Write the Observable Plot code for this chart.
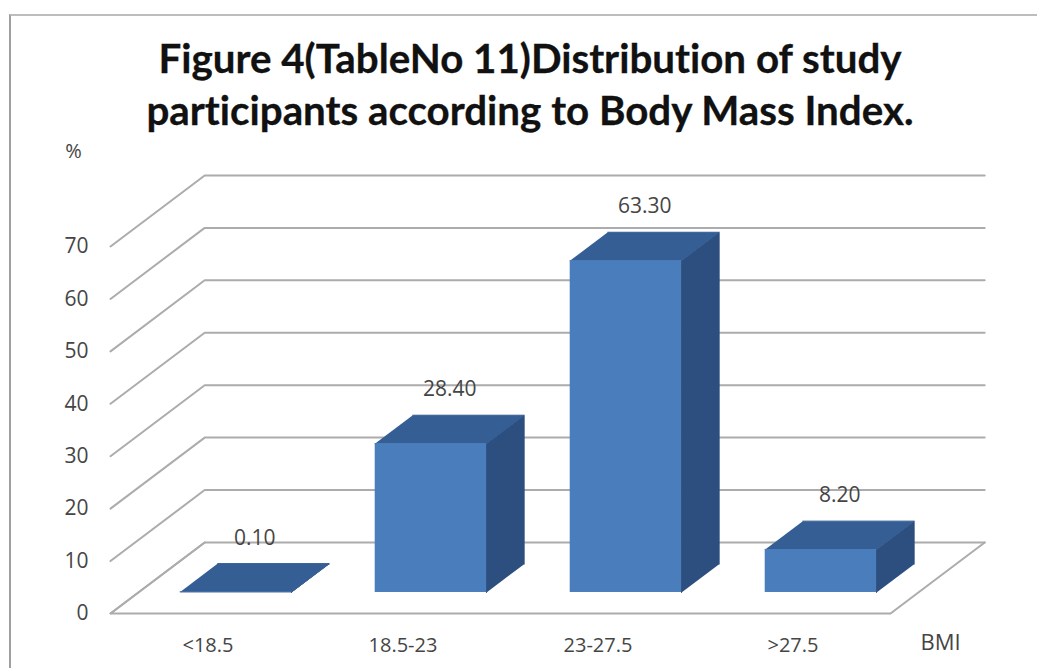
<!DOCTYPE html>
<html>
<head>
<meta charset="utf-8">
<script src="https://cdn.jsdelivr.net/npm/d3@7"></script>
<script src="https://cdn.jsdelivr.net/npm/@observablehq/plot@0.6"></script>
<style>
  html, body { margin: 0; background: #fff; }
  #page { position: relative; width: 1037px; height: 668px; overflow: hidden; }
  #frame { position: absolute; left: 9px; top: 14px; width: 1060px; height: 700px; border: 2px solid #9f9f9f; border-top-color: #bdbdbd; box-sizing: border-box; }
  #title { position: absolute; left: 0; top: 32px; width: 1060px; text-align: center; font: 700 40.3px/52px Lato, sans-serif; font-variant-ligatures: none; color: #111; -webkit-text-stroke: 0.3px #111; }
  #chart { position: absolute; left: 0; top: 120px; }
  svg { display: block; }
</style>
</head>
<body>
<div id="page">
  <div id="frame"></div>
  <div id="title">Figure 4(TableNo 11)Distribution of study<br>participants according to Body Mass Index.</div>
  <div id="chart"></div>
</div>
<script>
const categories = ["<18.5", "18.5-23", "23-27.5", ">27.5"];
const percents = [0.1, 28.4, 63.3, 8.2];
const valueLabels = ["0.10", "28.40", "63.30", "8.20"];
const gridValues = [0, 10, 20, 30, 40, 50, 60, 70];

// Oblique projection: one unit of depth shifts a point right and up in data units.
const shiftX = 0.483;
const shiftY = 13.55;
const project = (c, v, d) => ({x: c + d * shiftX, y: v + d * shiftY});

const barWidth = 0.571;
const barDepthStart = 0.296;
const barDepthEnd = 0.695;

const bars = categories.map((name, i) => ({
  name,
  value: percents[i],
  label: valueLabels[i],
  left: i + 0.5 - barWidth / 2,
  right: i + 0.5 + barWidth / 2
}));

const polygon = (id, points) => points.map(p => ({id, ...p}));

const wallLines = gridValues.flatMap(v =>
  polygon(`grid-${v}`, [project(0, v, 0), project(0, v, 1), project(4, v, 1)])
);
const floorEdge = polygon("floor", [
  project(0, 0, 1), project(0, 0, 0), project(4, 0, 0), project(4, 0, 1)
]);

const topFaces = bars.flatMap(b => polygon(`top-${b.name}`, [
  project(b.left, b.value, barDepthStart),
  project(b.right, b.value, barDepthStart),
  project(b.right, b.value, barDepthEnd),
  project(b.left, b.value, barDepthEnd)
]));
const sideFaces = bars.flatMap(b => polygon(`side-${b.name}`, [
  project(b.right, 0, barDepthStart),
  project(b.right, b.value, barDepthStart),
  project(b.right, b.value, barDepthEnd),
  project(b.right, 0, barDepthEnd)
]));
const frontFaces = bars.map(b => ({
  x1: project(b.left, 0, barDepthStart).x,
  x2: project(b.right, 0, barDepthStart).x,
  y1: project(b.left, 0, barDepthStart).y,
  y2: project(b.left, b.value, barDepthStart).y
}));
const labelAnchors = bars.map(b => ({
  label: b.label,
  ...project((b.left + b.right) / 2, b.value, (barDepthStart + barDepthEnd) / 2)
}));

const textFont = "Open Sans, sans-serif";
const textColor = "#454545";
const gridColor = "#acacac";

const chart = Plot.plot({
  width: 1037,
  height: 548,
  marginLeft: 110,
  marginRight: 147,
  marginTop: 126,
  marginBottom: 55,
  style: {background: "transparent", fontFamily: textFont},
  x: {domain: [0, 4], range: [110, 890], axis: null},
  y: {domain: [0, 70], axis: null},
  marks: [
    Plot.line(wallLines, {x: "x", y: "y", z: "id", stroke: gridColor, strokeWidth: 2}),
    Plot.line(floorEdge, {x: "x", y: "y", z: "id", stroke: gridColor, strokeWidth: 2}),
    Plot.line(sideFaces, {x: "x", y: "y", z: "id", fill: "#2d4f7f", stroke: "#2d4f7f", strokeWidth: 1}),
    Plot.line(topFaces, {x: "x", y: "y", z: "id", fill: "#355f94", stroke: "#355f94", strokeWidth: 1}),
    Plot.rect(frontFaces, {x1: "x1", x2: "x2", y1: "y1", y2: "y2", fill: "#4a7dbb"}),
    Plot.text(labelAnchors, {x: "x", y: "y", text: "label", dx: 0, dy: -40, fontSize: 21, fill: textColor}),
    Plot.axisY({
      anchor: "left", ticks: gridValues, tickSize: 0, tickPadding: 22,
      label: null, fontSize: 21, color: textColor
    }),
    Plot.axisX({
      anchor: "bottom", ticks: categories.map((_, i) => i + 0.5),
      tickFormat: t => categories[t - 0.5], tickSize: 0, tickPadding: 24,
      label: null, fontSize: 20, color: textColor
    }),
    Plot.text(["%"], {x: () => 0, y: () => 70, dx: -37, dy: -95, fontSize: 20, fill: textColor}),
    Plot.text(["BMI"], {x: () => 4, y: () => 0, dx: 50, dy: 29, fontSize: 22, fill: textColor})
  ]
});

document.getElementById("chart").appendChild(chart);
</script>
</body>
</html>
